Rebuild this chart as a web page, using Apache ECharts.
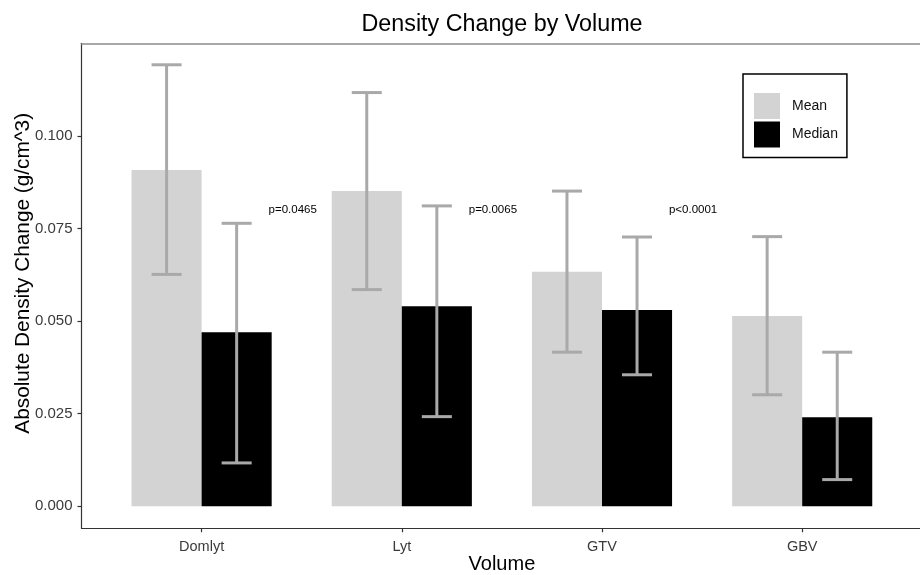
<!DOCTYPE html>
<html>
<head>
<meta charset="utf-8">
<script src="https://cdn.jsdelivr.net/npm/echarts@6/dist/echarts.min.js"></script>
<style>
  html, body { margin: 0; padding: 0; background: #ffffff; }
  #chart { width: 920px; height: 575px; }
</style>
</head>
<body>
<div id="chart"></div>
<script>
const categories = ['Domlyt', 'Lyt', 'GTV', 'GBV'];
const meanValues = [0.0908, 0.0851, 0.0633, 0.0514];
const meanLow = [0.0626, 0.0585, 0.0416, 0.0301];
const meanHigh = [0.1192, 0.1117, 0.0851, 0.0728];
const medianValues = [0.0470, 0.0540, 0.0530, 0.0240];
const medianLow = [0.0117, 0.0242, 0.0355, 0.0072];
const medianHigh = [0.0764, 0.0811, 0.0727, 0.0416];
const pLabels = ['p=0.0465', 'p=0.0065', 'p<0.0001'];
const pLabelY = 0.08;
const yTicks = [0, 0.025, 0.05, 0.075, 0.1];

const FONT = '"Liberation Sans", Arial, sans-serif';
const BAR_W = 0.35;
const CAP_W = 0.15;
const ERR_COLOR = '#a9a9a9';

function barRender(offset) {
  return function (params, api) {
    const x = api.value(0) + offset;
    const p0 = api.coord([x - BAR_W / 2, api.value(1)]);
    const p1 = api.coord([x + BAR_W / 2, 0]);
    return {
      type: 'rect',
      shape: { x: p0[0], y: p0[1], width: p1[0] - p0[0], height: p1[1] - p0[1] },
      style: { fill: api.visual('color') }
    };
  };
}

function errRender(offset) {
  return function (params, api) {
    const x = api.value(0) + offset;
    const lo = api.coord([x, api.value(1)]);
    const hi = api.coord([x, api.value(2)]);
    const l1 = api.coord([x - CAP_W / 2, api.value(1)]);
    const r1 = api.coord([x + CAP_W / 2, api.value(1)]);
    const l2 = api.coord([x - CAP_W / 2, api.value(2)]);
    const r2 = api.coord([x + CAP_W / 2, api.value(2)]);
    const st = { stroke: ERR_COLOR, lineWidth: 3 };
    return {
      type: 'group',
      children: [
        { type: 'line', shape: { x1: lo[0], y1: lo[1], x2: hi[0], y2: hi[1] }, style: st },
        { type: 'line', shape: { x1: l1[0], y1: l1[1], x2: r1[0], y2: r1[1] }, style: st },
        { type: 'line', shape: { x1: l2[0], y1: l2[1], x2: r2[0], y2: r2[1] }, style: st }
      ]
    };
  };
}

const chart = echarts.init(document.getElementById('chart'), null, { renderer: 'canvas' });

chart.setOption({
  backgroundColor: '#ffffff',
  animation: false,
  title: {
    text: 'Density Change by Volume',
    left: 497,
    top: 8,
    textAlign: 'center',
    textStyle: { fontFamily: FONT, fontSize: 23.3, fontWeight: 'normal', color: '#000000' }
  },
  legend: {
    data: ['Mean', 'Median'],
    orient: 'vertical',
    left: 743,
    top: 74,
    padding: [19, 9, 10, 11],
    itemGap: 2.5,
    itemWidth: 26,
    itemHeight: 26,
    icon: 'rect',
    borderColor: '#000000',
    borderWidth: 1.5,
    backgroundColor: '#ffffff',
    textStyle: { fontFamily: FONT, fontSize: 14, color: '#111111', padding: [0, 0, 0, 7] }
  },
  grid: {
    left: 81.5,
    top: 43.3,
    width: 840.8,
    height: 485,
    show: false,
    containLabel: false,
    outerBoundsMode: 'none'
  },
  xAxis: [
    {
      type: 'value',
      min: 0.4,
      max: 4.6,
      name: 'Volume',
      nameLocation: 'middle',
      nameGap: 26,
      nameMoveOverlap: false,
      nameTextStyle: { fontFamily: FONT, fontSize: 20, color: '#000000' },
      axisLine: { show: true, onZero: false, lineStyle: { color: '#333333', width: 1.2 } },
      axisTick: { show: true, length: 4, customValues: [1, 2, 3, 4], lineStyle: { color: '#333333', width: 1.2 } },
      axisLabel: {
        customValues: [1, 2, 3, 4],
        margin: 11,
        fontFamily: FONT,
        fontSize: 14.5,
        color: '#3a3a3a',
        formatter: function (v) { return categories[Math.round(v) - 1]; }
      },
      splitLine: { show: false }
    },
    {
      type: 'value',
      position: 'top',
      min: 0.4,
      max: 4.6,
      axisLine: { show: true, onZero: false, lineStyle: { color: '#8c8c8c', width: 1.5 } },
      axisTick: { show: false },
      axisLabel: { show: false },
      splitLine: { show: false }
    }
  ],
  yAxis: {
    type: 'value',
    min: -0.00595,
    max: 0.125,
    name: 'Absolute Density Change (g/cm^3)',
    nameLocation: 'middle',
    nameGap: 48,
    nameMoveOverlap: false,
    nameTextStyle: { fontFamily: FONT, fontSize: 20.8, color: '#000000', padding: [0, 0, 0, 25] },
    axisLine: { show: true, onZero: false, lineStyle: { color: '#333333', width: 1.2 } },
    axisTick: { show: true, length: 4, customValues: yTicks, lineStyle: { color: '#333333', width: 1.2 } },
    axisLabel: {
      customValues: yTicks,
      margin: 9,
      fontFamily: FONT,
      fontSize: 15,
      color: '#3a3a3a',
      formatter: function (v) { return v.toFixed(3); }
    },
    splitLine: { show: false }
  },
  series: [
    {
      name: 'Mean',
      type: 'custom',
      itemStyle: { color: '#d3d3d3' },
      renderItem: barRender(-BAR_W / 2),
      data: categories.map(function (c, i) { return [i + 1, meanValues[i]]; }),
      z: 2
    },
    {
      name: 'Median',
      type: 'custom',
      itemStyle: { color: '#000000' },
      renderItem: barRender(BAR_W / 2),
      data: categories.map(function (c, i) { return [i + 1, medianValues[i]]; }),
      z: 2
    },
    {
      name: 'MeanErr',
      type: 'custom',
      renderItem: errRender(-BAR_W / 2),
      data: categories.map(function (c, i) { return [i + 1, meanLow[i], meanHigh[i]]; }),
      z: 3
    },
    {
      name: 'MedianErr',
      type: 'custom',
      renderItem: errRender(BAR_W / 2),
      data: categories.map(function (c, i) { return [i + 1, medianLow[i], medianHigh[i]]; }),
      z: 3
    },
    {
      name: 'pvalues',
      type: 'custom',
      renderItem: function (params, api) {
        const p = api.coord([api.value(0), api.value(1)]);
        return {
          type: 'text',
          style: {
            x: p[0], y: p[1],
            text: pLabels[params.dataIndex],
            fill: '#000000',
            font: '11.5px ' + FONT,
            align: 'center',
            verticalAlign: 'middle'
          }
        };
      },
      data: pLabels.map(function (t, i) { return [i + 1.455, pLabelY]; }),
      z: 4
    }
  ]
});
</script>
</body>
</html>
